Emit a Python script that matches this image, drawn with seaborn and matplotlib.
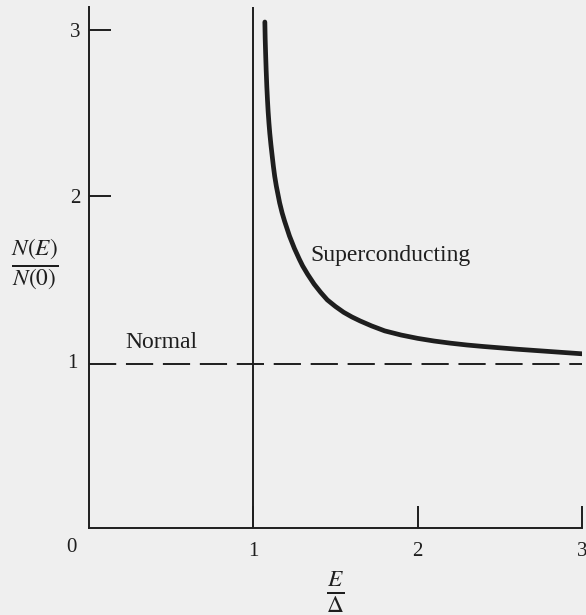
import seaborn as sns
import matplotlib.pyplot as plt
import pandas as pd

# valores (E/Delta, N(E)/N(0))
energia = [1.07, 1.072, 1.075, 1.078, 1.082, 1.086, 1.09, 1.095, 1.10, 1.107,
           1.115, 1.122, 1.13, 1.14, 1.15, 1.16, 1.175, 1.19, 1.20, 1.22,
           1.25, 1.28, 1.30, 1.33, 1.37, 1.41, 1.45, 1.50, 1.55, 1.60, 1.65,
           1.72, 1.80, 1.90, 2.00, 2.10, 2.20, 2.30, 2.40, 2.50, 2.60, 2.70,
           2.80, 2.90, 3.00]
densidad = [3.05, 2.95, 2.85, 2.76, 2.66, 2.58, 2.51, 2.44, 2.38, 2.31,
            2.24, 2.18, 2.12, 2.06, 2.01, 1.96, 1.90, 1.85, 1.82, 1.76,
            1.685, 1.62, 1.58, 1.53, 1.47, 1.42, 1.375, 1.335, 1.30, 1.272,
            1.248, 1.218, 1.188, 1.163, 1.143, 1.127, 1.114, 1.103, 1.094,
            1.086, 1.078, 1.071, 1.064, 1.057, 1.05]
normal_x = [0, 3]
normal_y = [0.99, 0.99]
brecha_x = [1, 1]
brecha_y = [0, 3.14]
xticks = [1, 2, 3]
yticks = [2, 3]

sns.set_style("white")
plt.rcParams['font.family'] = ['Liberation Serif', 'DejaVu Serif']
plt.rcParams['mathtext.fontset'] = 'stix'

tinta = '#1e1e1e'
fondo = '#efefef'

fig = plt.figure(figsize=(5.86, 6.15), dpi=100, facecolor=fondo)
ax = fig.add_axes([0.152, 0.1415, 0.841, 0.847])
ax.set_facecolor(fondo)

datos = pd.DataFrame({'E': energia, 'N': densidad})
sns.lineplot(data=datos, x='E', y='N', color=tinta, linewidth=3.4, ax=ax,
             solid_joinstyle='round', solid_capstyle='round')

ax.plot(normal_x, normal_y, color=tinta, linewidth=1.4, dashes=(14, 5))
ax.plot(brecha_x, brecha_y, color=tinta, linewidth=1.4)

ax.set_xlim(0, 3)
ax.set_ylim(0, 3.14)

for lado in ['top', 'right']:
    ax.spines[lado].set_visible(False)
for lado in ['left', 'bottom']:
    ax.spines[lado].set_color(tinta)
    ax.spines[lado].set_linewidth(1.4)

ax.set_xticks(xticks)
ax.set_yticks(yticks)
ax.set_xticklabels([str(t) for t in xticks])
ax.set_yticklabels([str(t) for t in yticks])
ax.tick_params(axis='both', direction='in', length=16, width=1.4,
               color=tinta, labelcolor=tinta, labelsize=15,
               left=True, bottom=True)
ax.tick_params(axis='x', pad=10)
ax.tick_params(axis='y', pad=6)
ax.set_xlabel('')
ax.set_ylabel('')

# etiquetas que no caen en ticks
ax.text(-0.1, 0.99, '1', ha='center', va='center', fontsize=15, color=tinta)
ax.text(-0.11, -0.12, '0', ha='center', va='center', fontsize=15, color=tinta)

ax.text(0.44, 1.12, 'Normal', ha='center', va='center', fontsize=17, color=tinta)
ax.text(1.35, 1.645, 'Superconducting', ha='left', va='center', fontsize=17,
        color=tinta)

ax.text(-0.33, 1.58, r'$\frac{N(E)}{N(0)}$', ha='center', va='center',
        fontsize=24, color=tinta)
ax.text(1.5, -0.39, r'$\frac{E}{\Delta}$', ha='center', va='center',
        fontsize=24, color=tinta)

fig.savefig('out.png', dpi=100, facecolor=fondo)
